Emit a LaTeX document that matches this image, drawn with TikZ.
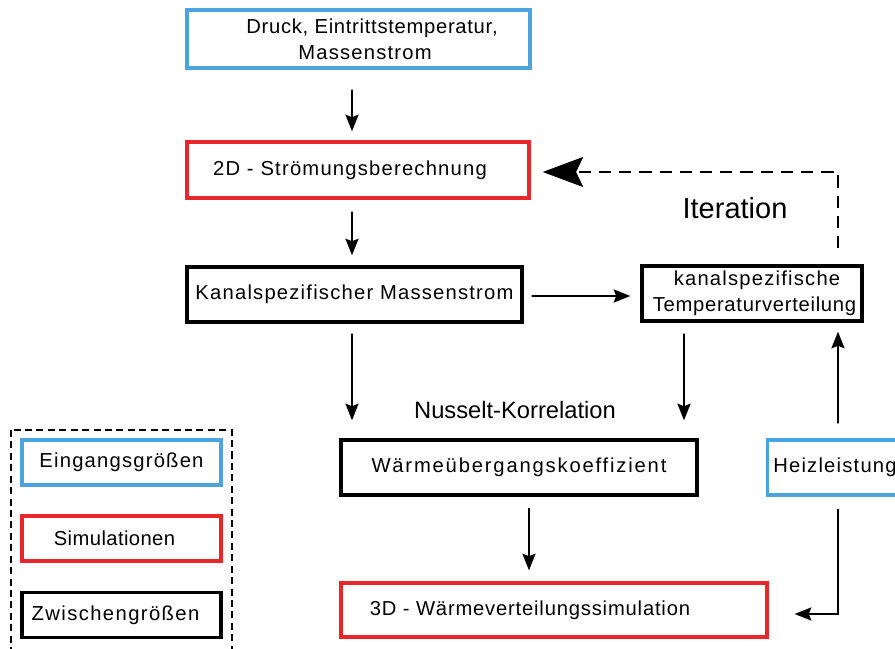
\documentclass[tikz,border=0pt]{standalone}
\usepackage{fontspec}
\setmainfont{Liberation Sans}
\newfontfamily\boxfont{Liberation Sans}[LetterSpace=6]
\newcommand\sperr[1]{\addfontfeature{LetterSpace=#1}}
\usetikzlibrary{arrows.meta}
\definecolor{eingangblau}{RGB}{77,163,221}
\definecolor{simrot}{RGB}{232,38,43}

\begin{document}
\begin{tikzpicture}[
  box/.style={rectangle,draw,line width=1.9pt,align=center,inner sep=2pt,font=\boxfont\fontsize{11.5}{15}\selectfont},
  eingang/.style={box,draw=eingangblau},
  simulation/.style={box,draw=simrot},
  zwischen/.style={box,draw=black},
  pfeil/.style={-{Stealth[length=9.5pt,width=7.5pt,inset=1.5pt]},line width=0.9pt},
  rueck/.style={-{Stealth[length=23pt,width=17pt,inset=4pt]},line width=1.5pt,dash pattern=on 7pt off 4.5pt}]
\useasboundingbox (0,0) rectangle (17.9,-12.96);
\node(druck)[eingang,minimum width=6.86cm,minimum height=1.16cm] at (7.17,-0.78){{\sperr{3.5}\hspace*{0.54cm}Druck, Eintrittstemperatur,}\\\hspace*{0.26cm}Massenstrom};
\node(stroemung)[simulation,minimum width=6.84cm,minimum height=1.12cm] at (7.16,-3.4){2D - Strömungsberechnung\hspace*{0.32cm}};
\node(kanal)[zwischen,minimum width=6.7cm,minimum height=1.1cm] at (7.09,-5.89){Kanalspezifischer Massenstrom};
\node(temp)[zwischen,minimum width=4.4cm,minimum height=1.1cm] at (15.04,-5.87){\hspace*{0.2cm}kanalspezifische\\{\sperr{3.5}\hspace*{0.1cm}Temperaturverteilung}};
\node(waerme)[zwischen,minimum width=7.12cm,minimum height=1.1cm] at (10.38,-9.35){\sperr{9}Wärmeübergangskoeffizient};
\node(heiz)[eingang,minimum width=2.9cm,minimum height=1.1cm] at (16.8,-9.35){Heizleistung\hspace*{0.2cm}};
\node(simu3d)[simulation,minimum width=8.52cm,minimum height=1.08cm] at (11.08,-12.2){\sperr{4}3D - Wärmeverteilungssimulation\hspace*{0.96cm}};
\node(iteration) at (14.7,-4.16){\fontsize{16.5}{20}\selectfont Iteration};
\node(nusselt) at (10.3,-8.2){\fontsize{13.5}{16}\selectfont Nusselt-Korrelation};
\draw[line width=0.8pt,dash pattern=on 4pt off 2.5pt] (0.22,-8.6) rectangle (4.64,-13.3);
\node(leg1)[eingang,minimum width=3.98cm,minimum height=0.9cm] at (2.43,-9.25){Eingangsgrößen};
\node(leg2)[simulation,minimum width=3.98cm,minimum height=0.9cm] at (2.43,-10.77){\sperr{2}Simulationen\hspace*{0.28cm}};
\node(leg3)[zwischen,minimum width=3.98cm,minimum height=0.9cm] at (2.43,-12.3){\sperr{7}Zwischengrößen\hspace*{0.24cm}};
\path[draw,pfeil,shorten <=0.4cm,shorten >=0.18cm] ([xshift=-0.13cm]druck.south) -- ([xshift=-0.12cm]stroemung.north);
\path[draw,pfeil,shorten <=0.24cm,shorten >=0.2cm] ([xshift=-0.12cm]stroemung.south) -- ([xshift=-0.05cm]kanal.north);
\path[draw,pfeil,shorten <=0.16cm,shorten >=0.2cm] ([yshift=-0.03cm]kanal.east) -- ([yshift=-0.05cm]temp.west);
\path[draw,pfeil,shorten <=0.2cm,shorten >=0.36cm] ([xshift=-0.05cm]kanal.south) -- ([xshift=-3.34cm]waerme.north);
\path[draw,pfeil,shorten <=0.22cm,shorten >=0.36cm] ([xshift=-1.36cm]temp.south) -- ([xshift=3.3cm]waerme.north);
\path[draw,pfeil,shorten <=0.22cm,shorten >=0.22cm] ([xshift=0.2cm]waerme.south) -- ([xshift=-0.5cm]simu3d.north);
\path[draw,pfeil,shorten <=0.3cm,shorten >=0.18cm] ([xshift=-0.04cm]heiz.north) -- ([xshift=1.72cm]temp.south);
\path[draw,pfeil,shorten <=0.24cm,shorten >=0.52cm] ([xshift=-0.04cm]heiz.south) |- ([yshift=-0.08cm]simu3d.east);
\path[draw,rueck,shorten <=0.32cm,shorten >=0.24cm] ([xshift=1.72cm]temp.north) |- ([yshift=-0.04cm]stroemung.east);
\end{tikzpicture}
\end{document}
